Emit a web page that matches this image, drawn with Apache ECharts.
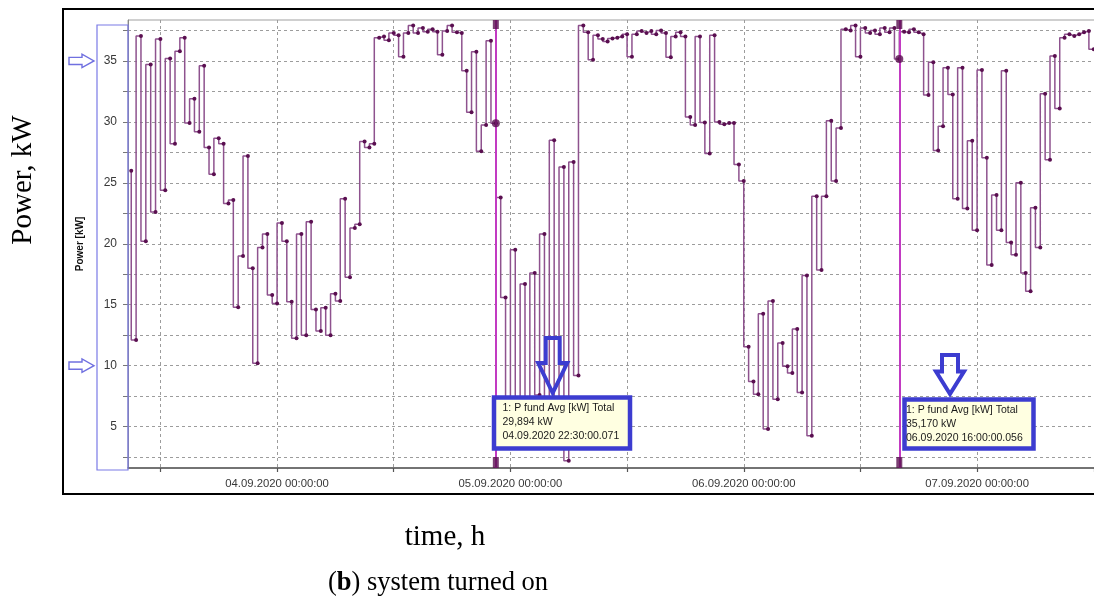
<!DOCTYPE html>
<html><head><meta charset="utf-8">
<script src="https://cdn.jsdelivr.net/npm/echarts@6/dist/echarts.min.js"></script>
<style>html,body{margin:0;padding:0;overflow:hidden;background:#fff;width:1094px;height:601px}#c{width:1140px;height:601px}</style>
</head><body><div id="c"></div>
<script>
// ---- data ----
const startTime = '2020-09-03 09:00';
const stepMinutes = 30;
const powerKW = [
  26.0, 12.1, 37.05, 20.2, 34.7, 22.6, 36.8, 24.4, 35.2, 28.2,
  35.8, 36.9, 29.9, 31.9, 29.2, 34.6, 27.9, 25.7, 28.65, 28.2,
  23.3, 23.6, 14.8, 19.0, 27.2, 18.0, 10.2, 19.7, 20.8, 15.8,
  15.1, 21.7, 20.2, 15.25, 12.25, 20.8, 12.5, 21.8, 14.6, 12.85,
  14.75, 12.5, 15.9, 15.3, 23.7, 17.25, 21.3, 21.6, 28.4, 27.9,
  28.2, 36.9, 37.0, 36.7, 37.3, 37.1, 35.35, 37.3, 37.9, 37.3,
  37.7, 37.4, 37.6, 37.4, 35.5, 37.45, 37.9, 37.35, 37.3, 34.2,
  30.8, 35.75, 27.6, 29.75, 36.65, 29.894, 23.8, 15.6, 4.0, 19.5,
  3.5, 16.7, 5.0, 17.6, 7.6, 20.8, 4.5, 28.5, 3.5, 26.3,
  2.2, 26.7, 9.2, 37.9, 37.35, 35.1, 37.1, 36.8, 36.6, 36.85,
  36.9, 37.0, 37.2, 35.35, 37.2, 37.45, 37.3, 37.45, 37.2, 37.5,
  37.3, 35.3, 37.0, 37.35, 37.0, 30.4, 29.75, 37.0, 29.95, 27.4,
  37.1, 30.0, 29.8, 29.9, 29.9, 26.5, 25.15, 11.55, 8.7, 7.65,
  14.25, 4.8, 15.3, 7.25, 11.85, 9.95, 9.4, 13.0, 7.8, 17.4,
  4.25, 23.9, 17.85, 23.9, 30.1, 25.15, 29.5, 37.6, 37.5, 37.9,
  35.35, 37.7, 37.3, 37.5, 37.2, 37.7, 37.35, 37.7, 35.17, 37.4,
  37.35, 37.6, 37.35, 37.2, 32.2, 34.9, 27.65, 29.65, 34.45, 32.25,
  23.7, 34.45, 22.9, 28.45, 21.1, 34.25, 27.05, 18.25, 24.0, 21.1,
  34.2, 20.1, 19.1, 25.0, 17.6, 16.1, 22.95, 19.7, 32.3, 26.9,
  35.4, 31.1, 36.9, 37.2, 37.05, 37.2, 37.35, 37.45, 35.95
];
const xMinTime = '2020-09-03 08:40';
const xMaxTime = '2020-09-07 14:00';
const xTickTimes = ['2020-09-03 12:00','2020-09-04 00:00','2020-09-04 12:00','2020-09-05 00:00','2020-09-05 12:00',
  '2020-09-06 00:00','2020-09-06 12:00','2020-09-07 00:00','2020-09-07 12:00'];
const xLabelTimes = ['2020-09-04 00:00','2020-09-05 00:00','2020-09-06 00:00','2020-09-07 00:00'];
const yMin = 1.6, yMax = 38.36;
const yTickValues = [2.5,5,7.5,10,12.5,15,17.5,20,22.5,25,27.5,30,32.5,35,37.5];
const yLabelValues = [5,10,15,20,25,30,35];
const yAxisName = 'Power [kW]';
const cursorTimes = ['2020-09-04 22:30','2020-09-06 16:00'];
const cursorValues = [29.894, 35.17];
const cursorTexts = [
  ['1: P fund Avg [kW] Total','29,894 kW','04.09.2020 22:30:00.071'],
  ['1: P fund Avg [kW] Total','35,170 kW','06.09.2020 16:00:00.056']
];
const markedLevels = [35, 10];
const captionY = 'Power, kW';
const captionX = 'time, h';
const captionSub = ['(', 'b', ') system turned on'];

// ---- helpers ----
function toMs(s){const [d,t]=s.split(' ');const [Y,M,D]=d.split('-').map(Number);const [h,m]=t.split(':').map(Number);return Date.UTC(Y,M-1,D,h,m);}
function pad(n){return String(n).padStart(2,'0');}
function fmt(v){const d=new Date(v);return pad(d.getUTCDate())+'.'+pad(d.getUTCMonth()+1)+'.'+d.getUTCFullYear()+' '+pad(d.getUTCHours())+':'+pad(d.getUTCMinutes())+':00';}

const t0 = toMs(startTime);
const seriesData = powerKW.map((v,i)=>[t0 + i*stepMinutes*60000, v]);
const cursorMs = cursorTimes.map(toMs);

const chart = echarts.init(document.getElementById('c'), null, {renderer:'canvas'});
const PURPLE_DARK = '#5a0f50';
chart.setOption({
  animation:false,
  backgroundColor:'#fff',
  grid:{left:128, top:20, width:985.2, height:448, show:true, borderColor:'#a0a0a0', borderWidth:1, backgroundColor:'#fff'},
  xAxis:{
    type:'value', min:toMs(xMinTime), max:toMs(xMaxTime),
    axisLine:{show:true, lineStyle:{color:'#555', width:1.5}},
    axisTick:{show:true, customValues:xTickTimes.map(toMs), length:4, lineStyle:{color:'#555', width:1.2}},
    axisLabel:{customValues:xLabelTimes.map(toMs), formatter:fmt, color:'#383838', fontSize:11.3, fontFamily:'Liberation Sans', margin:10},
    splitLine:{show:true, lineStyle:{type:[3,3], color:'#9c9c9c', width:1}}
  },
  yAxis:{
    type:'value', min:yMin, max:yMax,
    name:yAxisName, nameLocation:'middle', nameGap:43, nameRotate:90,
    nameTextStyle:{fontWeight:'bold', fontSize:10, color:'#111', fontFamily:'Liberation Sans'},
    axisLine:{show:true, lineStyle:{color:'#888', width:1}},
    axisTick:{show:true, customValues:yTickValues, length:5, lineStyle:{color:'#777'}},
    axisLabel:{customValues:yLabelValues, color:'#383838', fontSize:12, fontFamily:'Liberation Sans', margin:11},
    splitLine:{show:true, lineStyle:{type:[3,3], color:'#9c9c9c', width:1}}
  },
  series:[
    {type:'line', data:seriesData, step:'start', showAllSymbol:true, symbol:'circle', symbolSize:4,
     itemStyle:{color:PURPLE_DARK}, lineStyle:{color:'#8e528e', width:1.5}, emphasis:{disabled:true}, silent:true, z:2,
     markLine:{silent:true, symbol:'none', label:{show:false}, animation:false,
       lineStyle:{color:'#c23ac2', width:2, type:'solid'}, data:cursorMs.map(t=>({xAxis:t}))}},
    {type:'scatter', data:cursorMs.map((t,i)=>[t, cursorValues[i]]), symbolSize:8, itemStyle:{color:PURPLE_DARK}, z:5, silent:true},
    {type:'scatter', data:cursorMs.map(t=>[t, yMax]), symbol:'rect', symbolSize:[6,9], symbolOffset:[0,4.5], itemStyle:{color:PURPLE_DARK}, z:5, clip:false, silent:true},
    {type:'scatter', data:cursorMs.map(t=>[t, yMin]), symbol:'rect', symbolSize:[6,11], symbolOffset:[0,-5.5], itemStyle:{color:PURPLE_DARK}, z:5, clip:false, silent:true}
  ]
});

// ---- annotations ----
const BLUE = '#3c3cd0';
const g = [];
g.push({type:'rect', z:100, shape:{x:63, y:9, width:1200, height:485}, style:{fill:'none', stroke:'#000', lineWidth:2}});
g.push({type:'rect', z:100, shape:{x:97, y:25, width:31, height:445}, style:{fill:'none', stroke:'#7a7ae6', lineWidth:1.2}});
markedLevels.forEach(v=>{
  const c = chart.convertToPixel({yAxisIndex:0}, v);
  g.push({type:'polygon', z:100, shape:{points:[[69,c-3.6],[82,c-3.6],[82,c-6.7],[94,c],[82,c+6.7],[82,c+3.6],[69,c+3.6]]},
    style:{fill:'none', stroke:'#7070e0', lineWidth:1.4}});
});
const boxes = [
  {x:494, y:397.5, w:136, h:51, ax:552.7, top:338, head:363, tip:393, sh:7, hh:14.5},
  {x:904.5, y:399.5, w:129, h:49, ax:950, top:355, head:371.5, tip:394, sh:8, hh:14}
];
boxes.forEach((b,i)=>{
  g.push({type:'rect', z:110, shape:{x:b.x, y:b.y, width:b.w, height:b.h}, style:{fill:'#ffffe1', stroke:BLUE, lineWidth:4.5}});
  g.push({type:'text', z:111, style:{text:cursorTexts[i].join('\n'), x:b.x+(i===0?8.5:1.5), y:b.y+4, font:'10.5px "Liberation Sans"', fill:'#1a1a1a', lineHeight:13.8}});
  g.push({type:'polygon', z:110, shape:{points:[[b.ax-b.sh,b.top],[b.ax+b.sh,b.top],[b.ax+b.sh,b.head],[b.ax+b.hh,b.head],[b.ax,b.tip],[b.ax-b.hh,b.head],[b.ax-b.sh,b.head]]},
    style:{fill:'none', stroke:BLUE, lineWidth:4, lineJoin:'miter'}});
});
g.push({type:'text', z:100, x:23, y:180, rotation:Math.PI/2, style:{text:captionY, x:0, y:0, align:'center', verticalAlign:'middle', font:'29px "Liberation Serif"', fill:'#000'}});
g.push({type:'text', z:100, style:{text:captionX, x:445, y:537, align:'center', verticalAlign:'middle', font:'29px "Liberation Serif"', fill:'#000'}});
g.push({type:'text', z:100, style:{text:'{n|'+captionSub[0]+'}{b|'+captionSub[1]+'}{n|'+captionSub[2]+'}', x:438, y:583, align:'center', verticalAlign:'middle',
  rich:{n:{font:'26.5px "Liberation Serif"', fill:'#000'}, b:{font:'bold 26.5px "Liberation Serif"', fill:'#000'}}}});
chart.setOption({graphic:{elements:g}});
</script></body></html>
